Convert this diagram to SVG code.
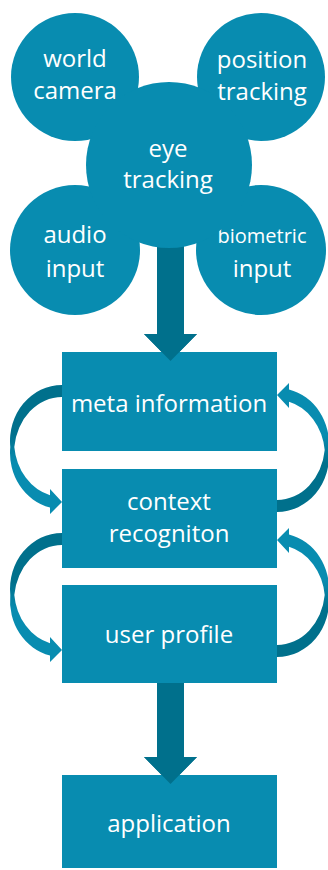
<svg xmlns="http://www.w3.org/2000/svg" width="328" height="870" viewBox="0 0 328 870">
<style>
.n{fill:#088CB0}
.t{fill:#fff;font-family:"Open Sans","Noto Sans",sans-serif;font-size:24px;text-anchor:middle}
.s{font-size:20px}
.big{fill:#00708C}
</style>
<defs>
<linearGradient id="g" x1="0" y1="0" x2="0" y2="1">
<stop offset="0" stop-color="#00708C"/>
<stop offset="0.38" stop-color="#00708C"/>
<stop offset="0.6" stop-color="#088CB0"/>
<stop offset="1" stop-color="#088CB0"/>
</linearGradient>
<path id="ca" fill="url(#g)" d="M62,385 A52,56 0 0 0 10.3,447 A52,56 0 0 0 50,507.5 L50,514 L62,502 L50,489 L50,495.2 A48,56 0 0 1 14.3,447 A48,56 0 0 1 62,397 Z"/>
</defs>
<g id="connectors">
<use href="#ca"/>
<use href="#ca" transform="translate(0,148)"/>
<use href="#ca" transform="rotate(180,169.5,448.5)"/>
<use href="#ca" transform="translate(0,145) rotate(180,169.5,448.5)"/>
<path class="big" d="M157,230 H184 V334 H197 L170.5,361 L144,334 H157 Z"/>
<path class="big" d="M157,683 H184 V757 H197 L170.5,784 L144,757 H157 Z"/>
</g>
<g id="world-camera"><circle class="n" cx="75" cy="77" r="64"/><text class="t" x="75" y="67">world</text><text class="t" x="75" y="99">camera</text></g>
<g id="position-tracking"><circle class="n" cx="261" cy="77" r="64"/><text class="t" x="262" y="68">position</text><text class="t" x="262" y="100">tracking</text></g>
<g id="audio-input"><circle class="n" cx="75" cy="250" r="65"/><text class="t" x="75" y="243">audio</text><text class="t" x="75" y="277">input</text></g>
<g id="biometric-input"><circle class="n" cx="261" cy="250" r="65"/><text class="t s" x="262" y="243">biometric</text><text class="t" x="262" y="277">input</text></g>
<g id="eye-tracking"><circle class="n" cx="169" cy="165" r="83"/><text class="t" x="168" y="157">eye</text><text class="t" x="168" y="188">tracking</text></g>
<g id="meta-information"><rect class="n" x="62" y="352" width="215" height="99"/><text class="t" x="169" y="412">meta information</text></g>
<g id="context-recognition"><rect class="n" x="62" y="469" width="215" height="99"/><text class="t" x="169" y="510">context</text><text class="t" x="169" y="542">recogniton</text></g>
<g id="user-profile"><rect class="n" x="62" y="585" width="215" height="98"/><text class="t" x="169" y="643">user profile</text></g>
<g id="application"><rect class="n" x="62" y="775" width="215" height="93"/><text class="t" x="169" y="832">application</text></g>
<g id="arrow-overlay">
<path class="big" d="M157,334 H197 L170.5,361 L144,334 Z"/>
<path class="big" d="M157,757 H197 L170.5,784 L144,757 Z"/>
</g>
</svg>
